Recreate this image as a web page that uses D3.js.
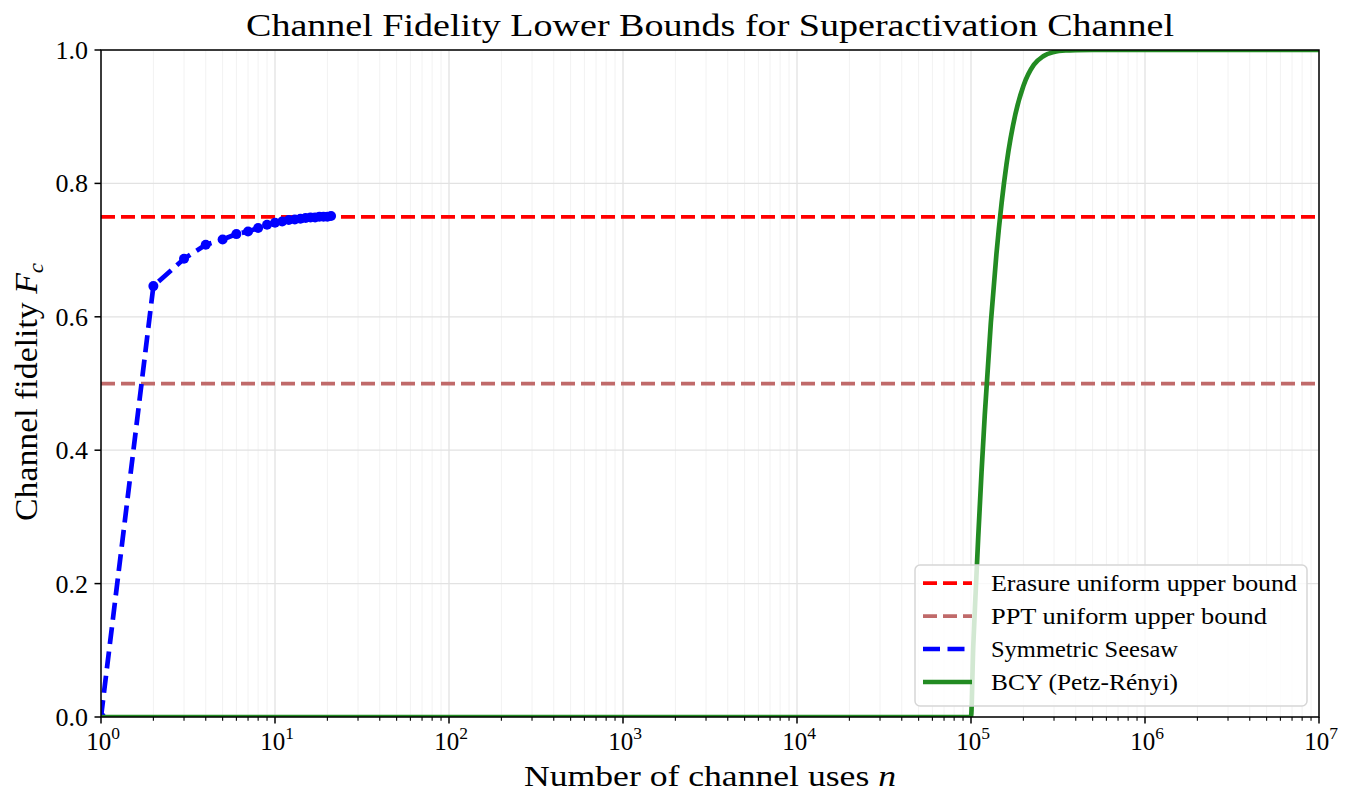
<!DOCTYPE html>
<html>
<head>
<meta charset="utf-8">
<script src="https://cdn.jsdelivr.net/npm/d3@7"></script>
<style>
  body { margin: 0; background: #fff; }
  svg { display: block; }
  text { font-family: "Liberation Serif", "DejaVu Serif", serif; fill: #000; }
</style>
</head>
<body>
<svg id="chart" width="1349" height="792"></svg>
<script>
// ---- Data ----
const seesawN = [1, 2, 3, 4, 5, 6, 7, 8, 9, 10, 11, 12, 13, 14, 15, 16, 17, 18, 19, 20, 21];
const seesawF = [0, 0.646, 0.687, 0.708, 0.716, 0.724, 0.728, 0.733, 0.738, 0.741, 0.743, 0.745, 0.746, 0.747, 0.748, 0.749, 0.749, 0.750, 0.750, 0.750, 0.751];
const bcyN = [1, 1e5, 1.03e5, 1.065e5, 1.1e5, 1.15e5, 1.2e5, 1.3e5, 1.4e5, 1.5e5, 1.6e5, 1.8e5, 2e5, 2.3e5, 2.6e5, 3e5, 3.5e5, 4e5, 5e5, 1e6, 1e7];
const bcyF = [0, 0, 0.105, 0.19, 0.269, 0.368, 0.453, 0.591, 0.694, 0.771, 0.829, 0.904, 0.946, 0.978, 0.9906, 0.997, 0.9993, 0.9998, 1.0, 1.0, 1.0];
const erasureBound = 0.75;
const pptBound = 0.5;
const xTickExps = [0, 1, 2, 3, 4, 5, 6, 7];
const yTicks = [0.0, 0.2, 0.4, 0.6, 0.8, 1.0];
const legendLabels = ["Erasure uniform upper bound", "PPT uniform upper bound", "Symmetric Seesaw", "BCY (Petz-Rényi)"];
const titleText = "Channel Fidelity Lower Bounds for Superactivation Channel";

// ---- Layout ----
const M = { left: 101, right: 1319, top: 50, bottom: 717 };
const svg = d3.select("#chart");
const x = d3.scaleLog().domain([1, 1e7]).range([M.left, M.right]);
const y = d3.scaleLinear().domain([0, 1]).range([M.bottom, M.top]);

svg.append("defs").append("clipPath").attr("id", "clip")
  .append("rect").attr("x", M.left).attr("y", M.top)
  .attr("width", M.right - M.left).attr("height", M.bottom - M.top);

// ---- Grid ----
const minorX = [];
for (let e = 0; e < 7; e++) for (let k = 2; k <= 9; k++) minorX.push(k * Math.pow(10, e));
const grid = svg.append("g");
grid.selectAll(".mgx").data(minorX).join("line")
  .attr("x1", d => x(d)).attr("x2", d => x(d)).attr("y1", M.top).attr("y2", M.bottom)
  .attr("stroke", "#f2f2f2").attr("stroke-width", 1);
grid.selectAll(".Mgx").data(xTickExps).join("line")
  .attr("x1", d => x(Math.pow(10, d))).attr("x2", d => x(Math.pow(10, d)))
  .attr("y1", M.top).attr("y2", M.bottom)
  .attr("stroke", "#e2e2e2").attr("stroke-width", 1.3);
grid.selectAll(".Mgy").data(yTicks).join("line")
  .attr("x1", M.left).attr("x2", M.right).attr("y1", d => y(d)).attr("y2", d => y(d))
  .attr("stroke", "#e2e2e2").attr("stroke-width", 1.3);

// ---- Series ----
const plot = svg.append("g").attr("clip-path", "url(#clip)");
const hline = v => [[1, v], [1e7, v]];
const lineGen = d3.line().x(d => x(d[0])).y(d => y(d[1]));

plot.append("path").datum(hline(erasureBound)).attr("d", lineGen)
  .attr("fill", "none").attr("stroke", "#ff0000").attr("stroke-width", 3.75)
  .attr("stroke-dasharray", "14,6");
plot.append("path").datum(hline(pptBound)).attr("d", lineGen)
  .attr("fill", "none").attr("stroke", "#c06a6a").attr("stroke-width", 3.75)
  .attr("stroke-dasharray", "14,6");

const seesaw = seesawN.map((n, i) => [n, seesawF[i]]);
plot.append("path").datum(seesaw).attr("d", lineGen)
  .attr("fill", "none").attr("stroke", "#0000ff").attr("stroke-width", 4.7)
  .attr("stroke-dasharray", "17,7.5");
plot.selectAll(".pt").data(seesaw).join("circle")
  .attr("cx", d => x(d[0])).attr("cy", d => y(d[1])).attr("r", 5)
  .attr("fill", "#0000ff");

const bcy = bcyN.map((n, i) => [n, bcyF[i]]);
plot.append("path").datum(bcy)
  .attr("d", d3.line().x(d => x(d[0])).y(d => y(d[1])).curve(d3.curveMonotoneX))
  .attr("fill", "none").attr("stroke", "#228b22").attr("stroke-width", 4.7);

// ---- Frame & ticks ----
svg.append("rect").attr("x", M.left).attr("y", M.top)
  .attr("width", M.right - M.left).attr("height", M.bottom - M.top)
  .attr("fill", "none").attr("stroke", "#000").attr("stroke-width", 1.5);

const ax = svg.append("g");
ax.selectAll(".xt").data(xTickExps).join("line")
  .attr("x1", d => x(Math.pow(10, d))).attr("x2", d => x(Math.pow(10, d)))
  .attr("y1", M.bottom).attr("y2", M.bottom + 6.5)
  .attr("stroke", "#000").attr("stroke-width", 1.5);
ax.selectAll(".xm").data(minorX).join("line")
  .attr("x1", d => x(d)).attr("x2", d => x(d))
  .attr("y1", M.bottom).attr("y2", M.bottom + 3.8)
  .attr("stroke", "#000").attr("stroke-width", 1.1);
const xl = ax.selectAll(".xl").data(xTickExps).join("text")
  .attr("x", d => x(Math.pow(10, d)) + 2).attr("y", M.bottom + 33)
  .attr("text-anchor", "middle").attr("font-size", 25);
xl.append("tspan").text("10");
xl.append("tspan").attr("dy", -11).attr("font-size", 17.5).text(d => d);

ax.selectAll(".yt").data(yTicks).join("line")
  .attr("x1", M.left - 6.5).attr("x2", M.left)
  .attr("y1", d => y(d)).attr("y2", d => y(d))
  .attr("stroke", "#000").attr("stroke-width", 1.5);
ax.selectAll(".yl").data(yTicks).join("text")
  .attr("x", M.left - 13).attr("y", d => y(d) + 9)
  .attr("text-anchor", "end").attr("font-size", 26)
  .text(d => d.toFixed(1));

// ---- Labels ----
svg.append("text").attr("x", (M.left + M.right) / 2).attr("y", 36)
  .attr("text-anchor", "middle").attr("font-size", 32)
  .attr("textLength", 928).attr("lengthAdjust", "spacingAndGlyphs")
  .text(titleText);

const xlab = svg.append("text").attr("x", (M.left + M.right) / 2).attr("y", 786)
  .attr("text-anchor", "middle").attr("font-size", 29.5)
  .attr("textLength", 372).attr("lengthAdjust", "spacingAndGlyphs");
xlab.append("tspan").text("Number of channel uses ");
xlab.append("tspan").attr("font-style", "italic").text("n");

const ylab = svg.append("text")
  .attr("transform", `translate(37, 392) rotate(-90)`)
  .attr("text-anchor", "middle").attr("font-size", 31)
  .attr("textLength", 258).attr("lengthAdjust", "spacingAndGlyphs");
ylab.append("tspan").text("Channel fidelity ");
ylab.append("tspan").attr("font-style", "italic").text("F");
ylab.append("tspan").attr("font-style", "italic").attr("font-size", 21).attr("dy", 6).text("c");

// ---- Legend ----
const lg = svg.append("g");
lg.append("rect").attr("x", 915).attr("y", 565).attr("width", 392).attr("height", 141)
  .attr("rx", 5).attr("fill", "rgba(255,255,255,0.8)")
  .attr("stroke", "#d6d6d6").attr("stroke-width", 1.5);
const legStyles = [
  { c: "#ff0000", w: 3.75, dash: "14,6" },
  { c: "#c06a6a", w: 3.75, dash: "14,6" },
  { c: "#0000ff", w: 4.7, dash: "17,7.5" },
  { c: "#228b22", w: 4.7, dash: null }
];
const rowY = [583, 616, 649, 682];
const legW = [306, 276, 187, 187];
legendLabels.forEach((lab, i) => {
  const s = legStyles[i];
  const l = lg.append("line").attr("x1", 923).attr("x2", 972)
    .attr("y1", rowY[i]).attr("y2", rowY[i])
    .attr("stroke", s.c).attr("stroke-width", s.w);
  if (s.dash) l.attr("stroke-dasharray", s.dash);
  lg.append("text").attr("x", 991).attr("y", rowY[i] + 8)
    .attr("font-size", 23)
    .attr("textLength", legW[i]).attr("lengthAdjust", "spacingAndGlyphs")
    .text(lab);
});
</script>
</body>
</html>
